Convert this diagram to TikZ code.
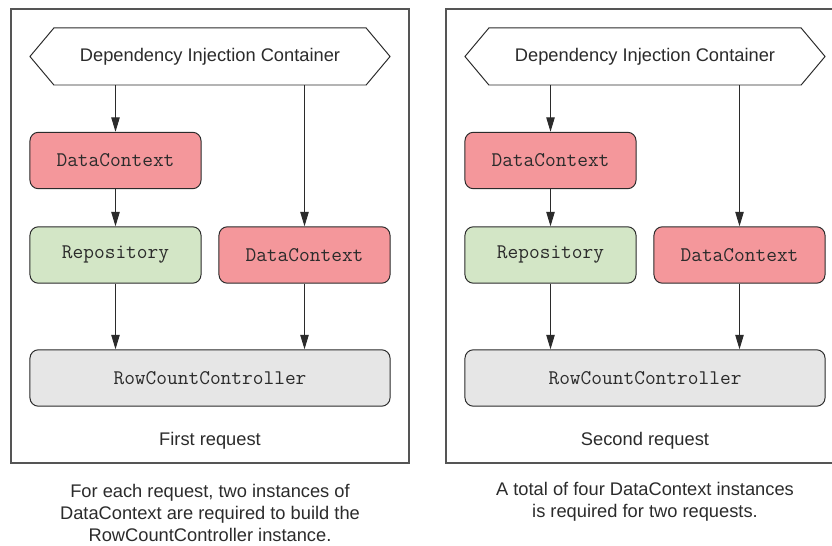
\documentclass[tikz,border=0pt]{standalone}
\usepackage{fontspec}
\setmainfont{Liberation Sans}
\usepackage{tikz}
\usetikzlibrary{arrows.meta,positioning,shapes.symbols}
\usepackage{xcolor}
\definecolor{ink}{HTML}{2B2B2B}
\definecolor{frm}{HTML}{555555}
\definecolor{dcred}{HTML}{F4979B}
\definecolor{repgreen}{HTML}{D3E6C6}
\definecolor{ctlgray}{HTML}{E6E6E6}

\tikzset{
  txt/.style={font=\fontsize{13}{15.6}\selectfont,text=ink},
  box/.style={draw=ink,line width=0.7pt,rounded corners=6pt,
    minimum width=4.275cm,minimum height=1.41cm,inner sep=0pt,
    font=\ttfamily\fontsize{14.8}{16}\selectfont,text=ink},
  dc/.style={box,fill=dcred},
  repo/.style={box,fill=repgreen},
  ctl/.style={box,fill=ctlgray,minimum width=9cm},
  dic/.style={draw=ink,line width=0.7pt,shape=signal,signal to=west and east,
    signal pointer angle=100,minimum width=9cm,minimum height=1.425cm,
    inner sep=0pt,txt},
  arr/.style={draw=ink,line width=0.7pt,-{Triangle[length=3.6mm,width=2.1mm]}}
}

\begin{document}
\begin{tikzpicture}[x=0.025cm,y=-0.025cm]
  \useasboundingbox (0,0) rectangle (832,545);
  \clip (0,0) rectangle (832,545);
  % one panel per request, shifted by 435px
  \foreach \p/\dx/\lab in {a/0/First request,b/435/Second request} {
    \begin{scope}[xshift=\dx*0.025cm]
      \draw[frm,line width=0.8pt] (11,9) rectangle (409,463);
      \node[dic] (dic\p) at (210,56.5) {Dependency Injection Container};
      \node[dc] (dcl\p) at (115.5,160.5) {DataContext};
      \node[repo] (rep\p) at (115.5,255) {Repository};
      \node[dc] (dcr\p) at (304.5,255) {DataContext};
      \node[ctl] (rcc\p) at (210,378) {RowCountController};
      \node[txt] (lab\p) at (210,441) {\lab};
      % connectors
      \coordinate (ta\p) at (dcl\p.north |- dic\p.south);
      \coordinate (tb\p) at (dcr\p.north |- dic\p.south);
      \draw[arr] (ta\p) -- (dcl\p.north);
      \draw[arr] (dcl\p) -- (rep\p);
      \draw[arr] (tb\p) -- (dcr\p.north);
      \draw[arr] (rep\p.south) -- (rep\p.south |- rcc\p.north);
      \draw[arr] (dcr\p.south) -- (dcr\p.south |- rcc\p.north);
    \end{scope}
  }
  \node[txt,align=center] (capa) at (210,513)
    {For each request, two instances of\\DataContext are required to build the\\RowCountController instance.};
  \node[txt,align=center] (capb) at (645,502)
    {A total of four DataContext instances\\is required for two requests.};
\end{tikzpicture}
\end{document}
